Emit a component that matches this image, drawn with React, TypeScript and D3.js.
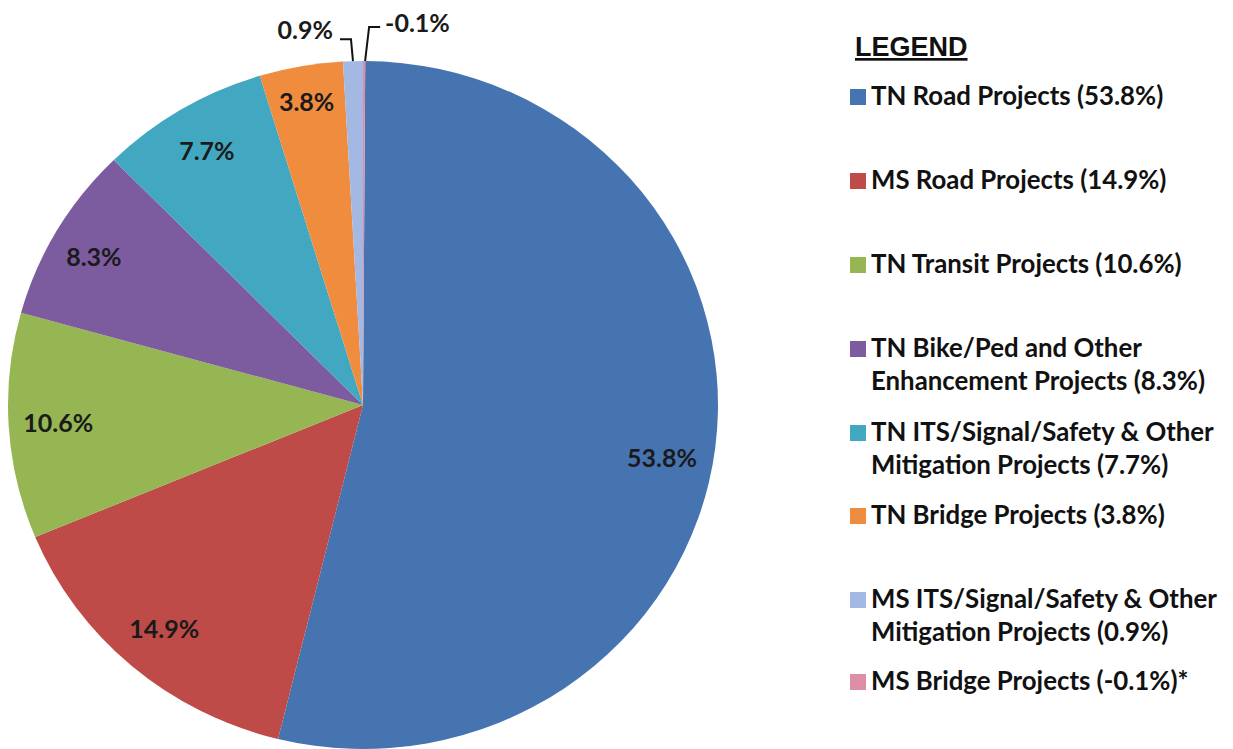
import { arc, pie, PieArcDatum } from "d3";
import { FC } from "react";

// Chart values
const categories = [
  "TN Road Projects",
  "MS Road Projects",
  "TN Transit Projects",
  "TN Bike/Ped and Other Enhancement Projects",
  "TN ITS/Signal/Safety & Other Mitigation Projects",
  "TN Bridge Projects",
  "MS ITS/Signal/Safety & Other Mitigation Projects",
  "MS Bridge Projects",
];
const shares = [53.8, 14.9, 10.6, 8.3, 7.7, 3.8, 0.9, -0.1];
const sliceLabels = ["53.8%", "14.9%", "10.6%", "8.3%", "7.7%", "3.8%", "0.9%", "-0.1%"];
const legendLines = [
  ["TN Road Projects (53.8%)"],
  ["MS Road Projects (14.9%)"],
  ["TN Transit Projects (10.6%)"],
  ["TN Bike/Ped and Other", "Enhancement Projects (8.3%)"],
  ["TN ITS/Signal/Safety & Other", "Mitigation Projects (7.7%)"],
  ["TN Bridge Projects (3.8%)"],
  ["MS ITS/Signal/Safety & Other", "Mitigation Projects (0.9%)"],
  ["MS Bridge Projects (-0.1%)*"],
];
const colors = ["#4674b1", "#be4b48", "#95b653", "#7c5c9f", "#42a8c2", "#f08c3e", "#a3b9e3", "#dc8fa6"];

// layout
const W = 1233;
const H = 749;
const cx = 363;
const cy = 405;
const rx = 355;
const ry = 344;
const labelK = 0.86;
const labelNudge: Record<number, [number, number]> = { 0: [-4, 16], 3: [-6, 2], 5: [-3, -12] };
const legendBaselines = [105, 189, 273, 357, 441, 524, 608, 690];
const lineGap = 33;
const font = "Lato, 'Open Sans', sans-serif";
const labelSize = 25;

type Row = { name: string; value: number; i: number };
const rows: Row[] = categories.map((name, i) => ({ name, value: Math.abs(shares[i]), i }));
const total = rows.reduce((s, r) => s + r.value, 0);
const offset = (Math.abs(shares[7]) / total) * Math.PI * 2;

const arcs = pie<Row>()
  .sort(null)
  .value((d) => d.value)
  .startAngle(offset)
  .endAngle(offset + Math.PI * 2)(rows);

const sliceArc = arc<PieArcDatum<Row>>().innerRadius(0).outerRadius(rx);
const labelArc = arc<PieArcDatum<Row>>().innerRadius(rx * labelK).outerRadius(rx * labelK);
const sy = ry / rx;

const edgePoint = (a: PieArcDatum<Row>) => {
  const m = (a.startAngle + a.endAngle) / 2;
  return [cx + rx * Math.sin(m), cy - ry * Math.cos(m)];
};

const App: FC = () => {
  const [ax9, ay9] = edgePoint(arcs[6]);
  const [axm, aym] = edgePoint(arcs[7]);
  return (
    <svg width={W} height={H} style={{ position: "absolute", left: 0, top: 0, background: "#fff" }}>
      <g transform={`translate(${cx},${cy}) scale(1,${sy})`}>
        {arcs.map((a) => (
          <path key={a.data.name} d={sliceArc(a) ?? ""} fill={colors[a.data.i]} />
        ))}
      </g>
      {arcs.slice(0, 6).map((a) => {
        const [x, y] = labelArc.centroid(a);
        const [nx, ny] = labelNudge[a.data.i] ?? [0, 0];
        return (
          <text
            key={a.data.name}
            x={cx + x + nx}
            y={cy + y * sy + ny + 9}
            textAnchor="middle"
            fontFamily={font}
            fontWeight="bold"
            fontSize={labelSize}
            fill="#1a1a1a"
          >
            {sliceLabels[a.data.i]}
          </text>
        );
      })}
      <polyline
        points={`${ax9},${ay9} ${ax9 - 2},${ay9 - 22} ${ax9 - 13},${ay9 - 22}`}
        fill="none"
        stroke="#111"
        strokeWidth={2}
      />
      <text x={ax9 - 20} y={ay9 - 22} textAnchor="end" fontFamily={font} fontWeight="bold" fontSize={labelSize} fill="#1a1a1a">
        {sliceLabels[6]}
      </text>
      <polyline
        points={`${axm + 1},${aym} ${axm + 5},${aym - 34} ${axm + 16},${aym - 34}`}
        fill="none"
        stroke="#111"
        strokeWidth={2}
      />
      <text x={axm + 21} y={aym - 29} fontFamily={font} fontWeight="bold" fontSize={labelSize} fill="#1a1a1a">
        {sliceLabels[7]}
      </text>

      <text
        x={855}
        y={56}
        fontFamily="'Liberation Sans', Arial, sans-serif"
        fontWeight="bold"
        fontSize={27}
        fill="#111"
        textDecoration="underline"
      >
        LEGEND
      </text>
      {legendLines.map((lines, i) => (
        <g key={categories[i]}>
          <rect x={850} y={legendBaselines[i] - 16} width={16} height={16} fill={colors[i]} />
          {lines.map((t, j) => (
            <text
              key={t}
              x={871}
              y={legendBaselines[i] + j * lineGap}
              fontFamily={font}
              fontWeight="bold"
              fontSize={25.8}
              fill="#111"
            >
              {t}
            </text>
          ))}
        </g>
      ))}
    </svg>
  );
};

export default App;
